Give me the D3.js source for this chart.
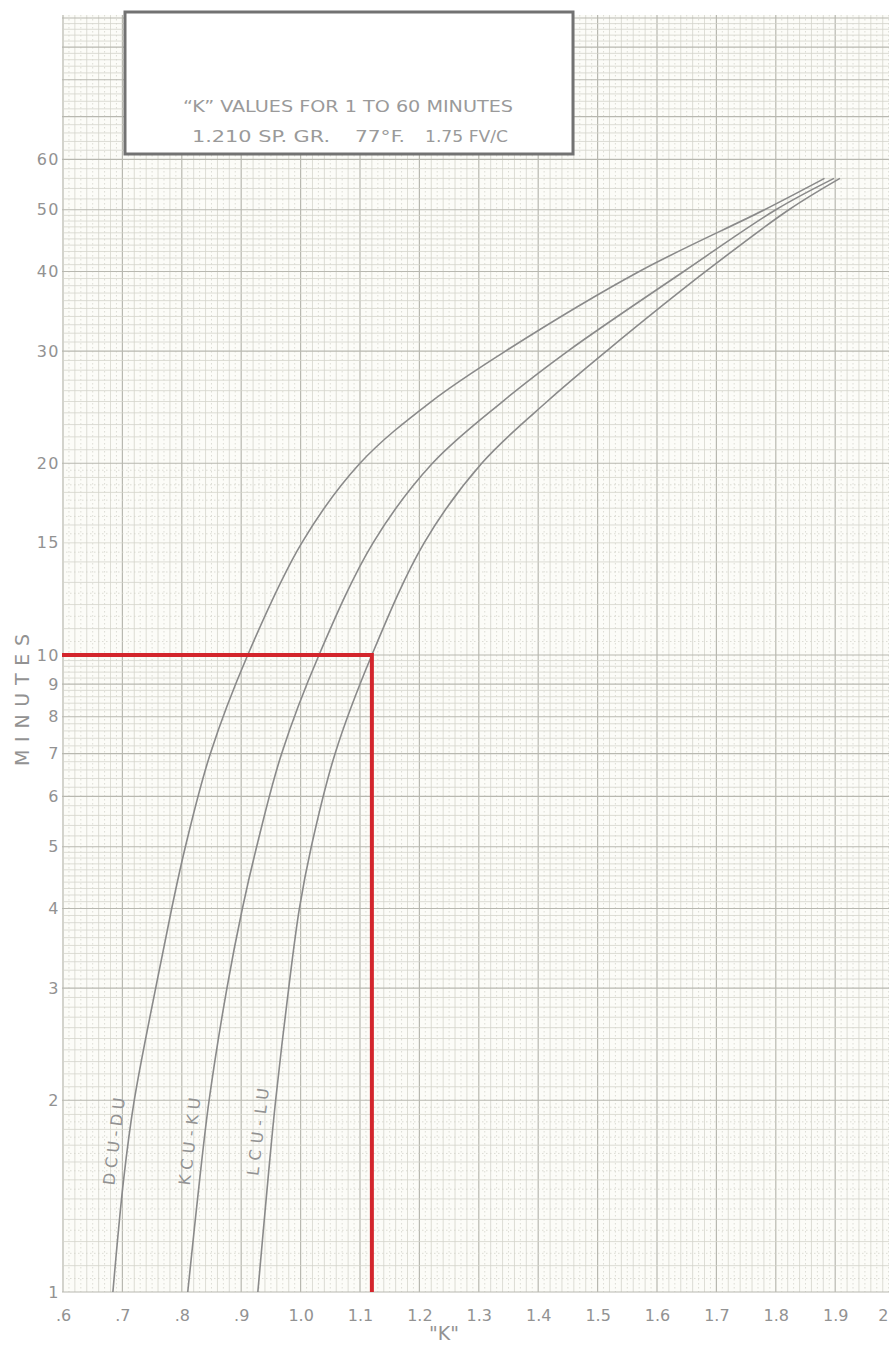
<!DOCTYPE html>
<html>
<head>
<meta charset="utf-8">
<script src="https://cdn.jsdelivr.net/npm/d3@7"></script>
<style>
  body { margin: 0; background: #fff; }
  svg { display: block; }
  .tick-label { font-family: "DejaVu Sans", sans-serif; fill: #929292; }
</style>
</head>
<body>
<div id="chart"></div>
<script>
// "K" values chart, semi-log graph paper

//////////////
/// DATA ///
//////////////

var minutes = [1, 1.5, 2, 3, 4, 5, 7, 10, 15, 20, 25, 30, 40, 50, 56];

// K at the minute values above
var kDCU = [0.684, 0.702, 0.720, 0.756, 0.783, 0.806, 0.848, 0.911, 1.002, 1.100, 1.220, 1.345, 1.570, 1.781, 1.882];
var kKCU = [0.810, 0.830, 0.846, 0.876, 0.902, 0.926, 0.968, 1.031, 1.122, 1.222, 1.340, 1.450, 1.645, 1.800, 1.898];
var kLCU = [0.928, 0.945, 0.958, 0.980, 0.998, 1.018, 1.058, 1.120, 1.208, 1.305, 1.415, 1.515, 1.682, 1.822, 1.908];

var curveNames = ["DCU-DU", "KCU-KU", "LCU-LU"];
// where along each curve (minutes) its name sits
var labelAt = [1.72, 1.72, 1.78];

// red reading lines
var redK = 1.12;
var redMinutes = 10;

var kTicks = [0.6, 0.7, 0.8, 0.9, 1.0, 1.1, 1.2, 1.3, 1.4, 1.5, 1.6, 1.7, 1.8, 1.9, 2.0];
var kTickLabels = [".6", ".7", ".8", ".9", "1.0", "1.1", "1.2", "1.3", "1.4", "1.5", "1.6", "1.7", "1.8", "1.9", "2"];
var minuteTicks = [1, 2, 3, 4, 5, 6, 7, 8, 9, 10, 15, 20, 30, 40, 50, 60];

var titleLine1 = "\u201CK\u201D VALUES FOR 1 TO 60 MINUTES";
var titleLine2 = ["1.210 SP. GR.", "77\u00B0F.", "1.75 FV/C"];

//////////////
/// SETUP ///
//////////////

var svgWidth = 889;
var svgHeight = 1346;

var paperLeft = 62, paperTop = 15, paperBottom = 1292;

var svg = d3.select("#chart").append("svg")
  .attr("width", svgWidth)
  .attr("height", svgHeight);

var x = d3.scaleLinear().domain([0.6, 2.0]).range([63, 63 + 1.4 * 594]);
var y = d3.scaleLog().domain([1, 100]).range([1292, 18]);

// paper
svg.append("rect")
  .attr("x", paperLeft).attr("y", paperTop)
  .attr("width", svgWidth - paperLeft).attr("height", paperBottom - paperTop)
  .attr("fill", "#fcfcf8");

//////////////
/// GRID ///
//////////////

var grid = svg.append("g");

// vertical lines every .01 of K
var vLines = d3.range(60, 201).map(function(i) { return { v: i / 100, i: i }; });
grid.selectAll(".vline").data(vLines).enter()
  .append("line").attr("class", "vline")
  .attr("x1", function(d) { return x(d.v); })
  .attr("x2", function(d) { return x(d.v); })
  .attr("y1", paperTop).attr("y2", paperBottom)
  .attr("stroke", function(d) { return d.i % 10 == 0 ? "#b8b8b0" : "#d4d4cc"; })
  .attr("stroke-width", function(d) { return d.i % 10 == 0 ? 1.2 : 0.8; })
  .attr("stroke-dasharray", function(d) { return d.i % 2 == 0 ? null : "1.5,2.5"; });

// horizontal log lines, two cycles
var hLines = [];
[1, 10].forEach(function(dec) {
  d3.range(100, 200, 5).forEach(function(j) { hLines.push({ v: j / 100 * dec, major: j % 100 == 0, dotted: j % 10 != 0 }); });
  d3.range(20, 50, 1).forEach(function(j) { hLines.push({ v: j / 10 * dec, major: j % 10 == 0, dotted: false }); });
  d3.range(50, 100, 2).forEach(function(j) { hLines.push({ v: j / 10 * dec, major: j % 10 == 0, dotted: false }); });
});
hLines.push({ v: 100, major: true, dotted: false });

grid.selectAll(".hline").data(hLines).enter()
  .append("line").attr("class", "hline")
  .attr("x1", paperLeft).attr("x2", svgWidth)
  .attr("y1", function(d) { return y(d.v); })
  .attr("y2", function(d) { return y(d.v); })
  .attr("stroke", function(d) { return d.major ? "#b8b8b0" : "#d4d4cc"; })
  .attr("stroke-width", function(d) { return d.major ? 1.2 : 0.8; })
  .attr("stroke-dasharray", function(d) { return d.dotted ? "1.5,2.5" : null; });

//////////////
/// AXES ///
//////////////

var xAxis = d3.axisBottom(x)
  .tickValues(kTicks)
  .tickSize(0)
  .tickFormat(function(d, i) { return kTickLabels[i]; });

var xLabels = svg.append("g")
  .attr("transform", "translate(0," + paperBottom + ")")
  .call(xAxis)
  .call(function(g) { g.select(".domain").remove(); })
  .selectAll("text")
  .attr("class", "tick-label")
  .attr("y", 18)
  .style("font-size", "16px");

// the last label runs off the page edge in the original, keep it inside
xLabels.filter(function(d) { return d == 2.0; })
  .attr("text-anchor", "end")
  .attr("x", svgWidth - 1 - x(2.0));

var yAxis = d3.axisLeft(y)
  .tickValues(minuteTicks)
  .tickSize(0)
  .tickFormat(d3.format("d"));

svg.append("g")
  .attr("transform", "translate(" + paperLeft + ",0)")
  .call(yAxis)
  .call(function(g) { g.select(".domain").remove(); })
  .selectAll("text")
  .attr("class", "tick-label")
  .attr("x", -2)
  .style("font-size", "16px")
  .style("letter-spacing", "1.5px");

svg.append("text")
  .attr("class", "tick-label")
  .attr("transform", "translate(29,700) rotate(-90)")
  .attr("text-anchor", "middle")
  .attr("textLength", 132)
  .attr("lengthAdjust", "spacing")
  .style("font-size", "19px")
  .text("MINUTES");

svg.append("text")
  .attr("class", "tick-label")
  .attr("x", 444).attr("y", 1340)
  .attr("text-anchor", "middle")
  .style("font-size", "19px")
  .text("\"K\"");

//////////////
/// CURVES ///
//////////////

var series = [kDCU, kKCU, kLCU].map(function(ks, s) {
  return { name: curveNames[s], points: ks.map(function(k, i) { return { k: k, m: minutes[i] }; }) };
});

var line = d3.line()
  .x(function(d) { return x(d.k); })
  .y(function(d) { return y(d.m); })
  .curve(d3.curveCatmullRom.alpha(0.5));

svg.selectAll(".curve").data(series).enter()
  .append("path").attr("class", "curve")
  .attr("d", function(d) { return line(d.points); })
  .attr("fill", "none")
  .attr("stroke", "#8a8a8a")
  .attr("stroke-width", 1.6);

// curve names, written up along the left side of each curve
svg.selectAll(".curve-name").data(series).enter()
  .append("text").attr("class", "tick-label curve-name")
  .attr("transform", function(d, i) {
    var m = labelAt[i];
    var k = d3.scaleLog().domain(minutes).range(d.points.map(function(p) { return p.k; }))(m);
    return "translate(" + (x(k) - 9) + "," + y(m) + ") rotate(-83)";
  })
  .attr("text-anchor", "middle")
  .attr("textLength", 88)
  .attr("lengthAdjust", "spacing")
  .style("font-size", "16px")
  .text(function(d) { return d.name; });

//////////////
/// RED LINES ///
//////////////

svg.append("path")
  .attr("d", "M" + paperLeft + "," + y(redMinutes) + "H" + x(redK) + "V" + paperBottom)
  .attr("fill", "none")
  .attr("stroke", "#d3252c")
  .attr("stroke-width", 4);

//////////////
/// TITLE BOX ///
//////////////

svg.append("rect")
  .attr("x", 125).attr("y", 12)
  .attr("width", 448).attr("height", 142)
  .attr("fill", "#fff")
  .attr("stroke", "#727272")
  .attr("stroke-width", 3);

var titleFont = "'Liberation Sans Narrow', 'DejaVu Sans Condensed', 'Roboto', sans-serif";

svg.append("text")
  .attr("x", 348).attr("y", 112)
  .attr("text-anchor", "middle")
  .attr("textLength", 330)
  .attr("lengthAdjust", "spacingAndGlyphs")
  .style("font-family", titleFont)
  .style("font-size", "16px")
  .style("fill", "#9a9a9a")
  .text(titleLine1);

// second line is three separate pieces with wide gaps
var line2X = [192, 355, 425];
var line2W = [138, 50, 83];
svg.selectAll(".title2").data(titleLine2).enter()
  .append("text").attr("class", "title2")
  .attr("x", function(d, i) { return line2X[i]; })
  .attr("y", 142)
  .attr("textLength", function(d, i) { return line2W[i]; })
  .attr("lengthAdjust", "spacingAndGlyphs")
  .style("font-family", titleFont)
  .style("font-size", "16px")
  .style("fill", "#9a9a9a")
  .text(function(d) { return d; });
</script>
</body>
</html>
